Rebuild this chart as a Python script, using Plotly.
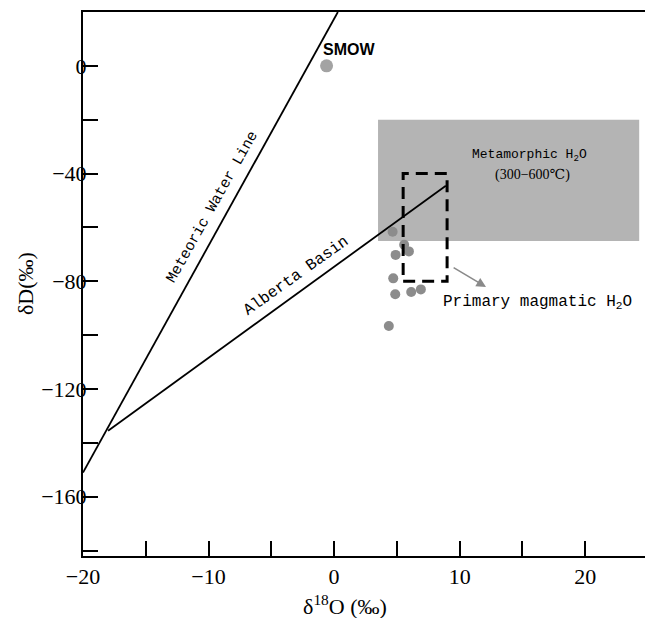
import plotly.graph_objects as go

# ---- data ----
sample_d18o = [4.66, 5.58, 4.90, 5.96, 4.71, 4.87, 6.14, 6.91, 4.36]
sample_dd = [-61.6, -66.4, -70.2, -68.9, -78.9, -84.8, -84.0, -83.0, -96.6]

smow_x = [-0.6]
smow_y = [0]

mwl_x = [-20, 0.3]
mwl_y = [-151, 20]

alberta_x = [-18.0, 8.9]
alberta_y = [-135.5, -44.5]

metamorphic_x = [3.5, 24.3]
metamorphic_y = [-65, -20]

magmatic_x = [5.5, 9.0]
magmatic_y = [-80, -40]

arrow_x = [9.4, 12.1]
arrow_y = [-74.6, -82.1]

x_tickvals = [-20, -15, -10, -5, 0, 5, 10, 15, 20, 25]
x_ticktext = ["−20", "", "−10", "", "0", "", "10", "", "20", ""]
y_tickvals = [20, 0, -20, -40, -60, -80, -100, -120, -140, -160, -180]
y_ticktext = ["", "0", "", "−40", "", "−80", "", "−120", "", "−160", ""]

x_range = [-20, 25.4]
y_range = [-182, 20]

serif = "Liberation Serif, DejaVu Serif, serif"
mono = "Liberation Mono, DejaVu Sans Mono, monospace"

fig = go.Figure()

# metamorphic water field
fig.add_shape(type="rect", xref="x", yref="y",
              x0=metamorphic_x[0], x1=metamorphic_x[1],
              y0=metamorphic_y[0], y1=metamorphic_y[1],
              fillcolor="#b4b4b4", line=dict(width=0), layer="below")

# lines
fig.add_trace(go.Scatter(x=mwl_x, y=mwl_y, mode="lines",
                         line=dict(color="black", width=1.8), showlegend=False))
fig.add_trace(go.Scatter(x=alberta_x, y=alberta_y, mode="lines",
                         line=dict(color="black", width=1.8), showlegend=False))

# primary magmatic water box
fig.add_shape(type="rect", xref="x", yref="y",
              x0=magmatic_x[0], x1=magmatic_x[1],
              y0=magmatic_y[0], y1=magmatic_y[1],
              fillcolor="rgba(0,0,0,0)",
              line=dict(color="black", width=3, dash="12px,7px"))

# samples
fig.add_trace(go.Scatter(x=sample_d18o, y=sample_dd, mode="markers",
                         marker=dict(color="#8c8c8c", size=10, line=dict(width=0)),
                         showlegend=False))
fig.add_trace(go.Scatter(x=smow_x, y=smow_y, mode="markers",
                         marker=dict(color="#a3a3a3", size=13, line=dict(width=0)),
                         showlegend=False))

annotations = [
    dict(x=1.2, y=6, text="<b>SMOW</b>", showarrow=False,
         font=dict(family="Liberation Sans Narrow, Liberation Sans, sans-serif", size=16, color="black")),
    dict(x=-9.7, y=-52.5, text="Meteoric Water Line", showarrow=False, textangle=-60.7,
         font=dict(family=mono, size=15, color="black")),
    dict(x=-3.0, y=-78.1, text="Alberta Basin", showarrow=False, textangle=-35.5,
         font=dict(family=mono, size=16, color="black")),
    dict(x=15.6, y=-33.2, text="Metamorphic H<sub>2</sub>O", showarrow=False,
         font=dict(family=mono, size=13, color="black")),
    dict(x=15.8, y=-40.4, text="(300−600℃)", showarrow=False,
         font=dict(family=serif, size=14, color="black")),
    dict(x=16.2, y=-87.9, text="Primary magmatic H<sub>2</sub>O", showarrow=False,
         font=dict(family=mono, size=16, color="black")),
    dict(x=arrow_x[1], y=arrow_y[1], ax=arrow_x[0], ay=arrow_y[0],
         xref="x", yref="y", axref="x", ayref="y", text="", showarrow=True,
         arrowhead=2, arrowsize=1.2, arrowwidth=1.6, arrowcolor="#8a8a8a"),
    dict(x=0.46, y=0, xref="paper", yref="paper", yshift=-49, yanchor="middle",
         text="δ<sup>18</sup>O (‰)", showarrow=False,
         font=dict(family=serif, size=22, color="black")),
    dict(x=0, y=0.5, xref="paper", yref="paper", xshift=-58, xanchor="center",
         text="δD(‰)", showarrow=False, textangle=-90,
         font=dict(family=serif, size=22, color="black")),
]

# the page body has an 8px default margin, so the figure is sized to fit the window
fig.update_layout(
    width=645, height=610,
    margin=dict(l=75, r=0, t=4, b=62),
    paper_bgcolor="white", plot_bgcolor="white",
    annotations=annotations,
    showlegend=False,
)
fig.update_xaxes(range=x_range, tickvals=x_tickvals, ticktext=x_ticktext,
                 showline=True, linecolor="black", linewidth=2, mirror=True,
                 ticks="inside", ticklen=15, tickwidth=2, tickcolor="black",
                 showgrid=False, zeroline=False,
                 tickfont=dict(family=serif, size=22, color="black"))
fig.update_yaxes(range=y_range, tickvals=y_tickvals, ticktext=y_ticktext,
                 showline=True, linecolor="black", linewidth=2,
                 ticks="inside", ticklen=15, tickwidth=2, tickcolor="black",
                 showgrid=False, zeroline=False, ticklabelstandoff=-10,
                 tickfont=dict(family=serif, size=22, color="black"))

fig.write_html("out.html")
